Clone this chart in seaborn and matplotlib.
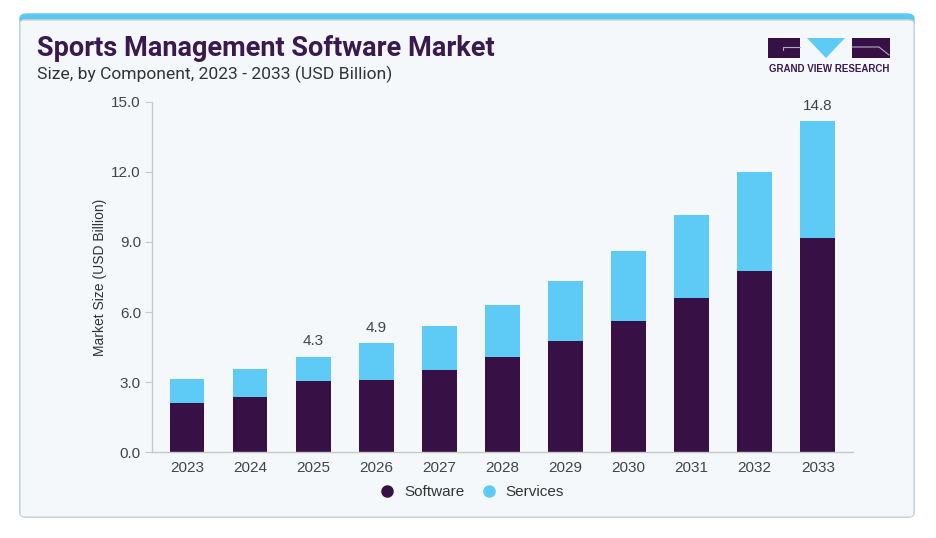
import matplotlib
matplotlib.use("Agg")
import matplotlib.pyplot as plt
from matplotlib.patches import FancyBboxPatch, Rectangle, Polygon
from matplotlib.lines import Line2D
import seaborn as sns
import pandas as pd
from matplotlib import font_manager

years = ["2023", "2024", "2025", "2026", "2027", "2028", "2029", "2030", "2031", "2032", "2033"]
software = [2.10, 2.35, 3.05, 3.09, 3.52, 4.09, 4.78, 5.62, 6.59, 7.76, 9.17]
services = [1.02, 1.21, 1.04, 1.59, 1.89, 2.20, 2.56, 2.99, 3.55, 4.23, 5.01]
label_years = ["2025", "2026", "2033"]
label_texts = ["4.3", "4.9", "14.8"]
yticks = [0.0, 3.0, 6.0, 9.0, 12.0, 15.0]

C_SOFT = "#371146"
C_SERV = "#5ecbf6"
C_TEXT = "#444444"

sns.set_theme(style="white")
avail = {f.name for f in font_manager.fontManager.ttflist}
narrow = "Liberation Sans Narrow" if "Liberation Sans Narrow" in avail else "Roboto"
plt.rcParams["font.family"] = ["Liberation Sans", "DejaVu Sans"]

W, H = 936, 538
fig = plt.figure(figsize=(W / 100, H / 100), dpi=100)
fig.patch.set_facecolor("white")

def fx(px):
    return px / W

def fy(py):
    return 1 - py / H

# card
outer = FancyBboxPatch((fx(20), fy(517)), fx(914) - fx(20), fy(14) - fy(517),
                       boxstyle="round,pad=0,rounding_size=0.008", transform=fig.transFigure,
                       facecolor="#5ec8f0", edgecolor="#5ec8f0", linewidth=1.0, zorder=-3)
inner = FancyBboxPatch((fx(20), fy(517)), fx(914) - fx(20), fy(20) - fy(517),
                       boxstyle="round,pad=0,rounding_size=0.006", transform=fig.transFigure,
                       facecolor="#f4f8fb", edgecolor="#d3d6d9", linewidth=1.0, zorder=-2)
fig.patches.extend([outer, inner])

ax = fig.add_axes([fx(152), fy(452.3), fx(852.7) - fx(152), fy(101.7) - fy(452.3)])
ax.set_facecolor("none")
ax.set_zorder(1)

df = pd.DataFrame({"Year": years, "Software": software, "Services": services})
df["Total"] = df["Software"] + df["Services"]

sns.barplot(data=df, x="Year", y="Total", color=C_SERV, width=0.55, ax=ax,
            saturation=1, linewidth=0, order=years)
sns.barplot(data=df, x="Year", y="Software", color=C_SOFT, width=0.55, ax=ax,
            saturation=1, linewidth=0, order=years)

for yr, txt in zip(label_years, label_texts):
    i = years.index(yr)
    ax.annotate(txt, (i, df["Total"].iloc[i]), xytext=(0, 6), textcoords="offset points",
                ha="center", va="bottom", fontsize=11, color=C_TEXT)

ax.set_xlim(-0.555, 10.553)
ax.set_ylim(0, 15)
ax.set_yticks(yticks)
ax.set_yticklabels([f"{v:.1f}" for v in yticks])
ax.tick_params(axis="y", length=5, width=0.8, color="#c8c8c8", labelsize=11, labelcolor=C_TEXT, pad=3, left=True)
ax.tick_params(axis="x", length=0, labelsize=11, labelcolor=C_TEXT, pad=6)
ax.set_xlabel("")
ax.set_ylabel("Market Size (USD Billion)", fontsize=10, color="#333333", labelpad=3)
for s in ["top", "right"]:
    ax.spines[s].set_visible(False)
for s in ["left", "bottom"]:
    ax.spines[s].set_color("#c8c8c8")
    ax.spines[s].set_linewidth(1.0)

# titles
fig.text(fx(37), fy(49), "Sports Management Software Market", fontsize=19.5, fontweight="bold",
         color="#3a1a4e", family=[narrow, "DejaVu Sans"], va="center", ha="left")
fig.text(fx(37), fy(74), "Size, by Component, 2023 - 2033 (USD Billion)", fontsize=12.6,
         color="#333333", family=[narrow, "DejaVu Sans"], va="center", ha="left")

# logo
fig.patches.append(Rectangle((fx(768), fy(58)), fx(800) - fx(768), fy(38) - fy(58),
                             transform=fig.transFigure, facecolor=C_SOFT, edgecolor="none"))
fig.patches.append(Rectangle((fx(852), fy(58)), fx(890) - fx(852), fy(38) - fy(58),
                             transform=fig.transFigure, facecolor=C_SOFT, edgecolor="none"))
fig.patches.append(Polygon([(fx(807), fy(38)), (fx(845), fy(38)), (fx(826), fy(58))],
                           closed=True, transform=fig.transFigure, facecolor=C_SERV, edgecolor="none"))
fig.lines.append(Line2D([fx(783), fx(783), fx(800)], [fy(50), fy(47), fy(47)],
                        transform=fig.transFigure, color="#b9a9c4", linewidth=0.8))
fig.lines.append(Line2D([fx(852), fx(879), fx(889)], [fy(47), fy(47), fy(55)],
                        transform=fig.transFigure, color="#b9a9c4", linewidth=0.8))
fig.text(fx(829), fy(69.5), "GRAND VIEW RESEARCH", fontsize=7, fontweight="bold",
         color="#3a1a4e", ha="center", va="center")

# legend
handles = [Line2D([], [], marker="o", linestyle="none", markersize=8, markerfacecolor=C_SOFT,
                  markeredgecolor=C_SOFT),
           Line2D([], [], marker="o", linestyle="none", markersize=8, markerfacecolor=C_SERV,
                  markeredgecolor=C_SERV)]
fig.legend(handles, ["Software", "Services"], loc="center", bbox_to_anchor=(fx(468), fy(492)),
           ncol=2, frameon=False, fontsize=11, handletextpad=0.1, columnspacing=0.6,
           labelcolor="#333333")

fig.savefig("out.png", dpi=100, facecolor="white")
